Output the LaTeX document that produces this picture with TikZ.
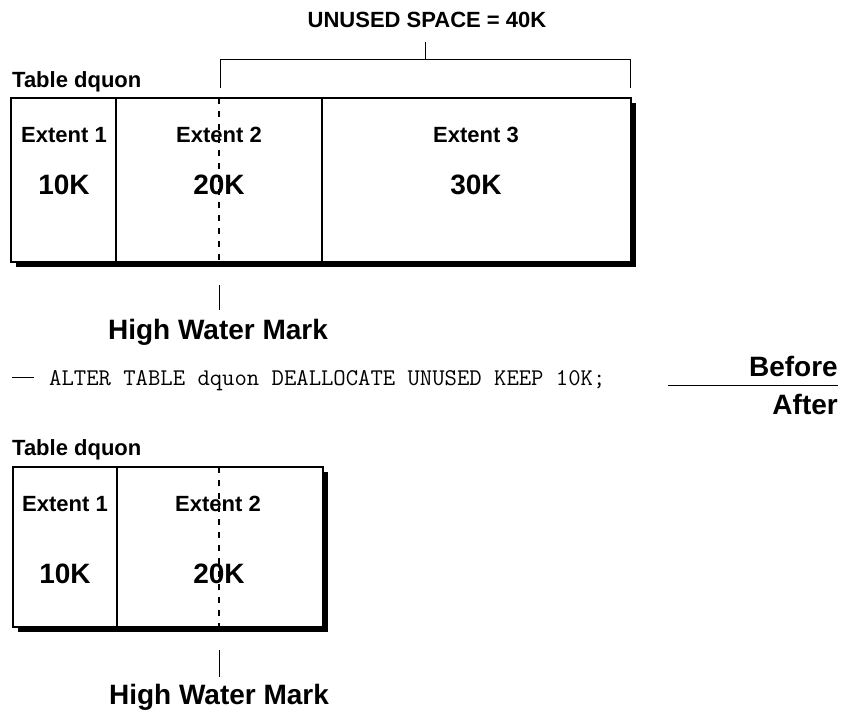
\documentclass[tikz,border=0pt]{standalone}
\usepackage{fontspec}
\setmainfont{Liberation Sans}
\tikzset{
  lbl/.style={font=\bfseries\fontsize{22}{26}\selectfont, inner sep=0pt, anchor=base},
  big/.style={font=\bfseries\fontsize{28}{32}\selectfont, inner sep=0pt, anchor=base},
  cmdtext/.style={font=\ttfamily\fontsize{24}{28}\selectfont, inner sep=0pt, anchor=base west},
  wall/.style={line width=1.5pt},
  hwmline/.style={line width=1.3pt, dash pattern=on 6pt off 7pt}
}
\begin{document}
\begin{tikzpicture}[x=1pt,y=-1pt]
\useasboundingbox (0,0) rectangle (841,711);
% before
\node[lbl] (unused) at (427,28) {UNUSED SPACE = 40K};
\coordinate (brtop) at (425,42);
\coordinate (brmid) at (425,60);
\draw[line width=1pt] (brtop) -- (brmid);
\draw[line width=1pt] (220,88) -- (220,60) -- (630,60) -- (630,88);
\node[lbl, anchor=base west] (tab1) at (12,88) {Table dquon};
\fill (16,103) rectangle (636,267);
\draw[wall, fill=white] (11,98) rectangle (631,262);
\draw[wall] (116,98) -- (116,262);
\draw[wall] (322,98) -- (322,262);
\draw[hwmline] (219,98) -- (219,262);
\node[lbl] (e11) at (64,143) {Extent 1};
\node[lbl] (e12) at (219,143) {Extent 2};
\node[lbl] (e13) at (476,143) {Extent 3};
\node[big] (k11) at (64,195) {10K};
\node[big] (k12) at (219,195) {20K};
\node[big] (k13) at (476,195) {30K};
\node[big] (mark1) at (218,340) {High Water Mark};
\coordinate (m1a) at (219,285);
\coordinate (m1b) at (219,310);
\draw[line width=1pt] (m1a) -- (m1b);
% statement
\node[cmdtext] (cmd) at (49,385) {ALTER TABLE dquon DEALLOCATE UNUSED KEEP 10K;};
\coordinate (da) at (12,378);
\coordinate (db) at (34,378);
\draw[line width=1pt] (da) -- (db);
\coordinate (sa) at (668,385);
\coordinate (sb) at (838,385);
\draw[line width=1pt] (sa) -- (sb);
\node[big, anchor=base east] (before) at (838,377) {Before};
\node[big, anchor=base east] (after) at (838,414) {After};
% after
\node[lbl, anchor=base west] (tab2) at (12,455) {Table dquon};
\fill (18,472) rectangle (328,632);
\draw[wall, fill=white] (13,467) rectangle (323,627);
\draw[wall] (117,467) -- (117,627);
\draw[hwmline] (219,467) -- (219,627);
\node[lbl] (e21) at (65,511) {Extent 1};
\node[lbl] (e22) at (218,511) {Extent 2};
\node[big] (k21) at (65,583) {10K};
\node[big] (k22) at (219,583) {20K};
\node[big] (mark2) at (219,704) {High Water Mark};
\coordinate (m2a) at (219,650);
\coordinate (m2b) at (219,677);
\draw[line width=1pt] (m2a) -- (m2b);
\end{tikzpicture}
\end{document}
